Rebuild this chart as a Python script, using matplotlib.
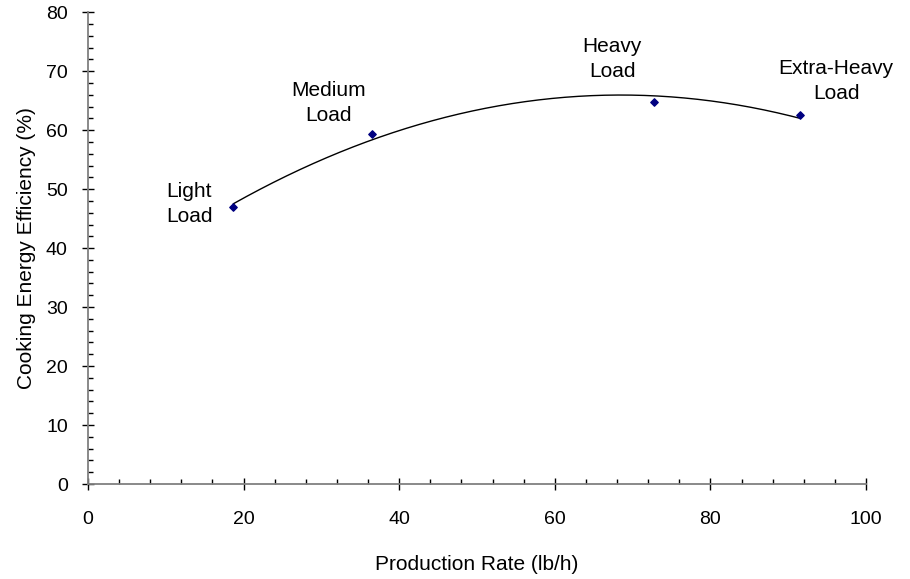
import numpy as np
import matplotlib
matplotlib.use("Agg")
import matplotlib.pyplot as plt
from matplotlib.ticker import MultipleLocator

plt.rcParams["font.family"] = ["Liberation Sans", "DejaVu Sans"]

# --- DATA ---
rate = [18.7, 36.5, 72.75, 91.5]          # lb/h
efficiency = [47.0, 59.4, 64.8, 62.5]     # %
labels = ["Light\nLoad", "Medium\nLoad", "Heavy\nLoad", "Extra-Heavy\nLoad"]
label_offsets = [(-32, 2), (-31, 22), (-30, 31), (26, 25)]  # points

# quadratic trendline through the data
coef = np.polyfit(rate, efficiency, 2)
x_fit = np.linspace(min(rate), max(rate), 300)
y_fit = np.polyval(coef, x_fit)

fig = plt.figure(figsize=(9.1, 5.79), dpi=100)
ax = fig.add_axes([0.0967, 0.164, 0.855, 0.815])

ax.plot(x_fit, y_fit, color="black", lw=1.0)
ax.scatter(rate, efficiency, marker="D", s=14, color="#000080", zorder=3)

for x, y, lab, off in zip(rate, efficiency, labels, label_offsets):
    ax.annotate(lab, (x, y), xytext=off, textcoords="offset points",
                ha="center", va="center", fontsize=15, linespacing=1.38)

ax.set_xlim(0, 100)
ax.set_ylim(0, 80)
ax.xaxis.set_major_locator(MultipleLocator(20))
ax.xaxis.set_minor_locator(MultipleLocator(4))
ax.yaxis.set_major_locator(MultipleLocator(10))
ax.yaxis.set_minor_locator(MultipleLocator(2))

ax.spines["top"].set_visible(False)
ax.spines["right"].set_visible(False)
for s in ("left", "bottom"):
    ax.spines[s].set_color("#808080")
    ax.spines[s].set_linewidth(1.3)

ax.tick_params(which="major", direction="inout", length=9, width=1, color="black",
               labelsize=14)
ax.tick_params(axis="x", which="major", pad=15)
ax.tick_params(axis="y", which="major", pad=10)
ax.tick_params(which="minor", direction="in", length=3.5, width=1, color="black")

ax.set_xlabel("Production Rate (lb/h)", fontsize=15, labelpad=19)
ax.set_ylabel("Cooking Energy Efficiency (%)", fontsize=15, labelpad=7)

fig.savefig("out.png", dpi=100)
